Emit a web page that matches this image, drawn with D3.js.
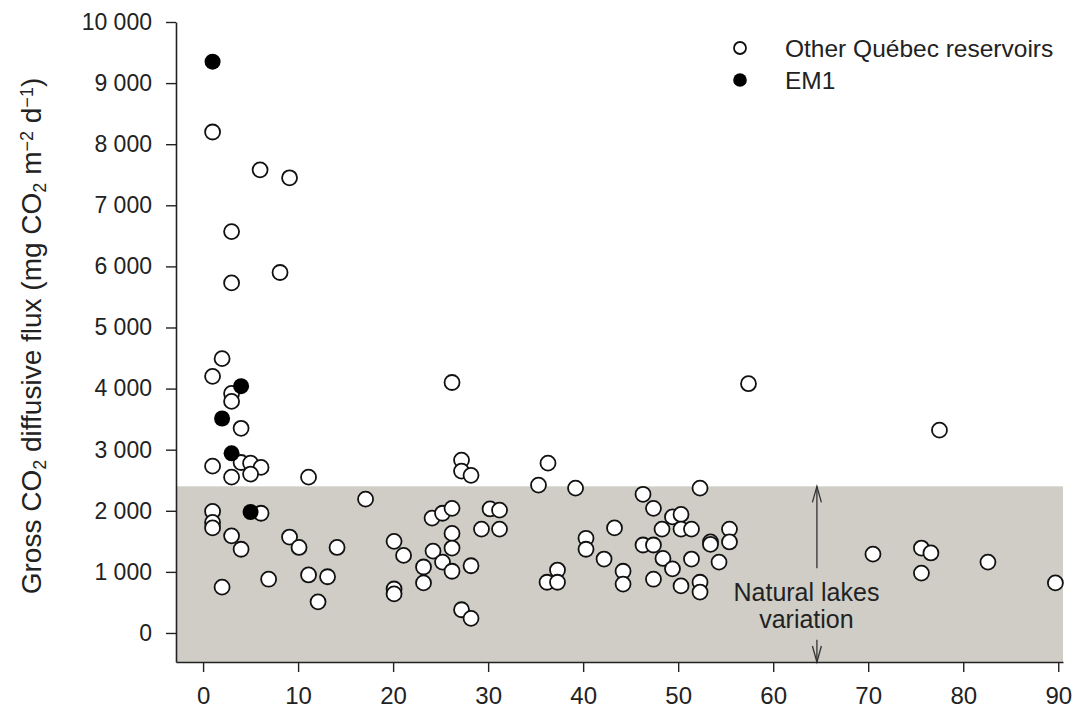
<!DOCTYPE html>
<html>
<head>
<meta charset="utf-8">
<script src="https://cdn.jsdelivr.net/npm/d3@7"></script>
<style>
  body { margin: 0; background: #ffffff; }
  text { font-family: "Liberation Sans", Arial, sans-serif; fill: #222; }
</style>
</head>
<body>
<svg id="chart" width="1081" height="711"></svg>
<script>
// Reservoir age (years) and gross CO2 diffusive flux (mg CO2 m-2 d-1)
const otherAge = [
  1, 6, 9.1, 3, 8.1, 3, 2, 1, 3, 3, 4, 1, 4, 5, 6.1, 3, 5, 11.1, 17.1,
  1, 1, 1, 6.1, 3, 4, 2, 6.9, 9.1, 10.1, 14.1, 11.1, 13.1, 12.1,
  26.2, 27.2, 27.2, 28.2, 36.3, 35.3, 39.2, 24.1, 25.2, 26.2, 30.2, 31.2,
  29.3, 31.2, 26.2, 20.1, 21.1, 26.2, 24.2, 25.2, 26.2, 28.2, 23.2, 23.2,
  20.1, 20.1, 27.2, 28.2, 37.3, 36.2, 37.3,
  57.4, 46.3, 52.3, 47.4, 49.4, 50.3, 48.3, 50.3, 51.4, 43.3, 40.3, 40.3,
  42.2, 46.3, 47.4, 48.4, 51.4, 54.3, 53.4, 53.4, 55.4, 55.4, 44.2, 44.2,
  47.4, 49.4, 50.3, 52.3, 52.3,
  77.5, 70.5, 75.6, 76.6, 75.6, 82.6, 89.7
];
const otherFlux = [
  8200, 7580, 7450, 6570, 5900, 5730, 4490, 4200, 3920, 3790, 3350, 2730, 2790, 2780, 2710, 2550, 2600, 2550, 2190,
  1990, 1810, 1720, 1960, 1590, 1370, 750, 880, 1570, 1400, 1400, 950, 920, 510,
  4100, 2830, 2650, 2580, 2780, 2420, 2370, 1880, 1960, 2040, 2030, 2010,
  1700, 1700, 1630, 1500, 1270, 1390, 1340, 1160, 1010, 1100, 1080, 820,
  720, 640, 380, 240, 1030, 830, 830,
  4080, 2270, 2370, 2040, 1900, 1940, 1700, 1700, 1700, 1720, 1550, 1370,
  1210, 1440, 1440, 1220, 1210, 1160, 1490, 1450, 1700, 1490, 1010, 800,
  880, 1050, 770, 830, 670,
  3320, 1290, 1390, 1310, 980, 1160, 820
];
const em1Age = [1, 4, 2, 3, 5];
const em1Flux = [9350, 4040, 3510, 2940, 1980];

const xTicks = [0, 10, 20, 30, 40, 50, 60, 70, 80, 90];
const yTicks = [0, 1000, 2000, 3000, 4000, 5000, 6000, 7000, 8000, 9000, 10000];
const naturalLakesMax = 2400;
const legendLabels = ["Other Québec reservoirs", "EM1"];
const noteLines = ["Natural lakes", "variation"];

const svg = d3.select("#chart");

const x = d3.scaleLinear().domain([-2.85, 90.5]).range([176, 1063]);
const y = d3.scaleLinear().domain([-475, 10000]).range([662, 22]);
const [xMin, xMax] = x.domain();
const [yMin] = y.domain();

// shaded band: range of natural lake fluxes
svg.append("rect")
  .attr("x", x(xMin))
  .attr("y", y(naturalLakesMax))
  .attr("width", x(xMax) - x(xMin))
  .attr("height", y(yMin) - y(naturalLakesMax))
  .attr("fill", "#cfcdc6");

// arrows marking the band
const arrowX = 64.6;
const arrowColor = "#333";
function arrow(v0, v1) {
  const xa = x(arrowX), y0 = y(v0), y1 = y(v1);
  const dir = y1 < y0 ? 1 : -1;
  svg.append("line")
    .attr("x1", xa).attr("x2", xa).attr("y1", y0).attr("y2", y1)
    .attr("stroke", arrowColor).attr("stroke-width", 1.3);
  svg.append("path")
    .attr("d", `M${xa - 4.5},${y1 + dir * 16}L${xa},${y1}L${xa + 4.5},${y1 + dir * 16}`)
    .attr("fill", "none").attr("stroke", arrowColor).attr("stroke-width", 1.3);
}
arrow(1060, naturalLakesMax);
arrow(-110, yMin);

svg.selectAll("text.note")
  .data(noteLines)
  .join("text")
  .attr("class", "note")
  .attr("x", x(63.5))
  .attr("y", (d, i) => y(i === 0 ? 520 : 80))
  .attr("text-anchor", "middle")
  .attr("font-size", 25)
  .text(d => d);

// axes
const fmt = v => d3.format(",")(v).replace(/,/g, " ");

const xAxis = svg.append("g")
  .attr("transform", `translate(0,${y(yMin)})`)
  .call(d3.axisBottom(x).tickValues(xTicks).tickSize(10).tickSizeOuter(0).tickPadding(15));
xAxis.selectAll("text").attr("font-size", 24).attr("fill", "#222")
  .style("font-family", '"Liberation Sans", Arial, sans-serif');

const yAxis = svg.append("g")
  .attr("transform", `translate(${x(xMin)},0)`)
  .call(d3.axisLeft(y).tickValues(yTicks).tickFormat(fmt).tickSize(10).tickSizeOuter(0).tickPadding(14));
yAxis.selectAll("text").attr("font-size", 23).attr("fill", "#222")
  .style("font-family", '"Liberation Sans", Arial, sans-serif');

[xAxis, yAxis].forEach(g => {
  g.select(".domain").attr("stroke", "#222").attr("stroke-width", 1.6);
  g.selectAll(".tick line").attr("stroke", "#222").attr("stroke-width", 1.4);
});

// y axis title with sub- and superscripts
const yTitle = svg.append("text")
  .attr("transform", "translate(41,336) rotate(-90)")
  .attr("text-anchor", "middle")
  .attr("font-size", 28);
const parts = [
  ["Gross CO", 0], ["2", -1], [" diffusive flux (mg CO", 0], ["2", -1],
  [" m", 0], ["\u22122", 1], [" d", 0], ["\u22121", 1], [")", 0]
];
parts.forEach(([t, s]) => {
  const ts = yTitle.append("tspan").text(t);
  if (s === -1) ts.attr("font-size", 18).attr("baseline-shift", "-25%");
  if (s === 1) ts.attr("font-size", 18).attr("baseline-shift", "45%");
});

// points
const others = otherAge.map((a, i) => ({ a, f: otherFlux[i] }));
const em1 = em1Age.map((a, i) => ({ a, f: em1Flux[i] }));

svg.append("g").selectAll("circle")
  .data(others)
  .join("circle")
  .attr("cx", d => x(d.a))
  .attr("cy", d => y(d.f))
  .attr("r", 7.5)
  .attr("fill", "#ffffff")
  .attr("stroke", "#111")
  .attr("stroke-width", 1.8);

svg.append("g").selectAll("circle")
  .data(em1)
  .join("circle")
  .attr("cx", d => x(d.a))
  .attr("cy", d => y(d.f))
  .attr("r", 8)
  .attr("fill", "#000");

// legend
const legend = svg.append("g").attr("transform", "translate(740,48)");
legendLabels.forEach((label, i) => {
  const row = legend.append("g").attr("transform", `translate(0,${i * 32})`);
  row.append("circle")
    .attr("r", i === 0 ? 6 : 6.8)
    .attr("fill", i === 0 ? "#fff" : "#000")
    .attr("stroke", "#111")
    .attr("stroke-width", i === 0 ? 1.8 : 0);
  row.append("text")
    .attr("x", 45)
    .attr("dy", "0.35em")
    .attr("font-size", 24.5)
    .text(label);
});
</script>
</body>
</html>
